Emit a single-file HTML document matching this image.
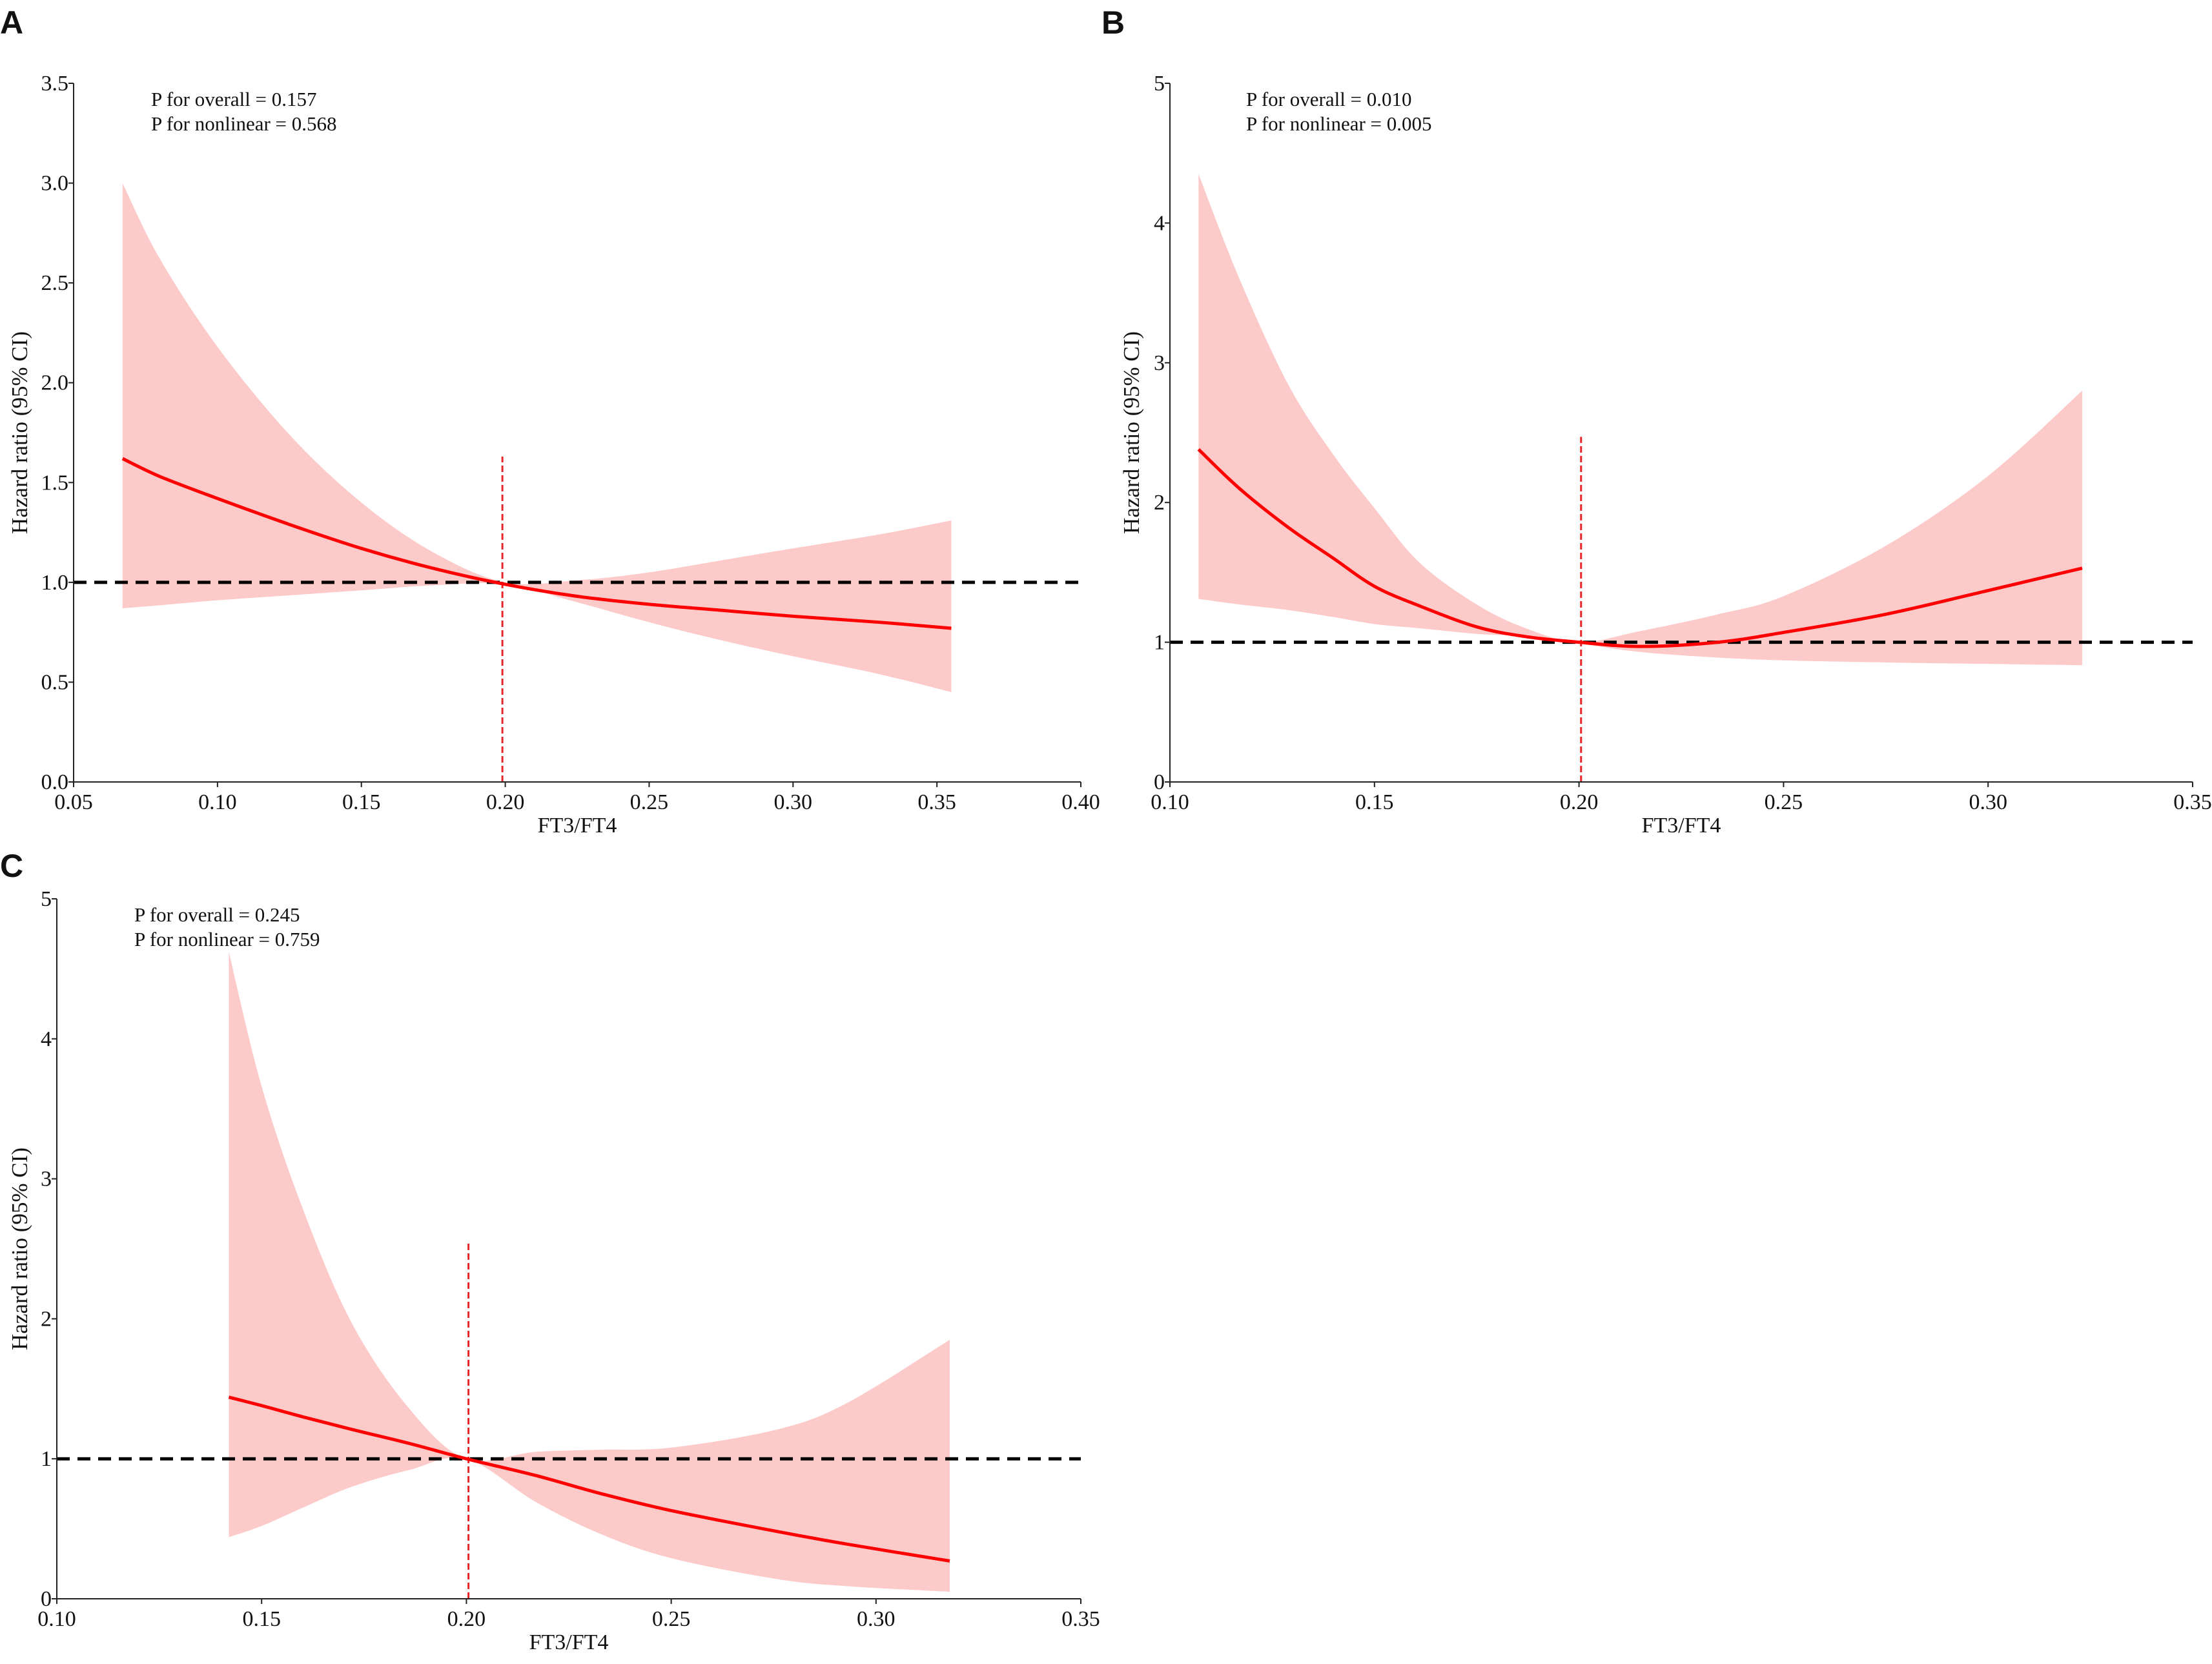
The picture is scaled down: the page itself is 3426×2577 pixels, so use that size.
<!DOCTYPE html>
<html><head><meta charset="utf-8"><style>
html,body{margin:0;padding:0;background:#fff}
svg{display:block}
text{font-family:"Liberation Serif",serif;fill:#111}
.lbl{font-family:"Liberation Sans",sans-serif;font-weight:bold}
</style></head><body>
<svg id="fig" width="3426" height="2577" viewBox="0 0 3426 2577" xmlns="http://www.w3.org/2000/svg"></svg>
<script>
// Panel A data
const aX=[0.067,0.08,0.10,0.125,0.15,0.175,0.20,0.225,0.25,0.275,0.30,0.33,0.355];
const aHR=[1.62,1.53,1.42,1.29,1.17,1.07,0.99,0.93,0.89,0.86,0.83,0.80,0.77];
const aUp=[3.0,2.62,2.18,1.74,1.4,1.15,1.0,1.01,1.05,1.11,1.17,1.24,1.31];
const aLo=[0.87,0.885,0.91,0.935,0.96,0.985,0.99,0.9,0.8,0.71,0.63,0.54,0.45];
const aTicksX=["0.05","0.10","0.15","0.20","0.25","0.30","0.35","0.40"];
const aTicksY=["0.0","0.5","1.0","1.5","2.0","2.5","3.0","3.5"];
// Panel B data
const bX=[0.107,0.117,0.129,0.140,0.150,0.161,0.175,0.187,0.20,0.215,0.234,0.25,0.275,0.30,0.323];
const bHR=[2.38,2.1,1.82,1.6,1.40,1.26,1.11,1.04,1.0,0.97,1.0,1.07,1.2,1.37,1.53];
const bUp=[4.35,3.6,2.84,2.34,1.96,1.57,1.27,1.1,1.0,1.08,1.2,1.33,1.69,2.19,2.8];
const bLo=[1.31,1.27,1.23,1.18,1.13,1.1,1.06,1.04,0.99,0.93,0.89,0.87,0.855,0.845,0.835];
const bTicksX=["0.10","0.15","0.20","0.25","0.30","0.35"];
const bTicksY=["0","1","2","3","4","5"];
// Panel C data
const cX=[0.142,0.15,0.160,0.172,0.186,0.20,0.217,0.233,0.25,0.276,0.293,0.318];
const cHR=[1.44,1.38,1.3,1.21,1.11,1.0,0.88,0.75,0.63,0.48,0.39,0.27];
const cUp=[4.62,3.66,2.79,1.97,1.36,1.0,1.05,1.065,1.08,1.21,1.4,1.85];
const cLo=[0.44,0.52,0.65,0.8,0.92,1.0,0.69,0.46,0.29,0.14,0.09,0.05];
const cTicksX=["0.10","0.15","0.20","0.25","0.30","0.35"];
const cTicksY=["0","1","2","3","4","5"];

const NS="http://www.w3.org/2000/svg";
const svg=document.getElementById('fig');
function mk(tag,attrs,parent){const e=document.createElementNS(NS,tag);for(const k in attrs)e.setAttribute(k,attrs[k]);(parent||svg).appendChild(e);return e;}
function smooth(pts){let d="M"+pts[0][0]+","+pts[0][1];for(let i=0;i<pts.length-1;i++){const p0=pts[Math.max(0,i-1)],p1=pts[i],p2=pts[i+1],p3=pts[Math.min(pts.length-1,i+2)];const c1=[p1[0]+(p2[0]-p0[0])/6,p1[1]+(p2[1]-p0[1])/6],c2=[p2[0]-(p3[0]-p1[0])/6,p2[1]-(p3[1]-p1[1])/6];d+=" C"+c1[0]+","+c1[1]+" "+c2[0]+","+c2[1]+" "+p2[0]+","+p2[1];}return d;}

function panel(o){
  const g=mk('g',{});
  
  
  const sx=v=>o.L+(v-o.x0)/(o.x1-o.x0)*(o.R-o.L);
  const sy=v=>o.B-(v-o.y0)/(o.y1-o.y0)*(o.B-o.T);
  const up=o.xs.map((x,i)=>[sx(x),sy(o.up[i])]);
  const lo=o.xs.map((x,i)=>[sx(x),sy(o.lo[i])]).reverse();
  let d=smooth(up)+" L"+lo[0][0]+","+lo[0][1]+smooth(lo).replace(/^M[^C]*/,' ')+" Z";
  const band=mk('path',{d:d,fill:'#fdcaca',stroke:'none'},g);
  
  
  const ref=mk('line',{x1:o.L,x2:o.R,y1:sy(1),y2:sy(1),stroke:'#000','stroke-width':5,'stroke-dasharray':'20,12'},g);
  
  
  const vl=mk('line',{x1:sx(o.vx),x2:sx(o.vx),y1:o.B,y2:sy(o.vtop),stroke:'#e8262a','stroke-width':3,'stroke-dasharray':'10,5'},g);
  
  
  const cur=mk('path',{d:smooth(o.xs.map((x,i)=>[sx(x),sy(o.hr[i])])),fill:'none',stroke:'#f00','stroke-width':5},g);
  
  
  const ya=mk('line',{x1:o.L,x2:o.L,y1:o.T,y2:o.B,stroke:'#222','stroke-width':2},g);
  
  
  const xa=mk('line',{x1:o.L,x2:o.R,y1:o.B,y2:o.B,stroke:'#222','stroke-width':2},g);
  
  
  o.tx.forEach(t=>{const v=parseFloat(t);const x=sx(v);
    mk('line',{x1:x,x2:x,y1:o.B,y2:o.B+8,stroke:'#222','stroke-width':2},g);
    const tt=mk('text',{x:x,y:o.B+42,'text-anchor':'middle','font-size':34},g);tt.textContent=t;
    
    });
  o.ty.forEach(t=>{const v=parseFloat(t);const y=sy(v);
    mk('line',{x1:o.L-8,x2:o.L,y1:y,y2:y,stroke:'#222','stroke-width':2},g);
    const tt=mk('text',{x:o.L-8,y:y+11,'text-anchor':'end','font-size':34},g);tt.textContent=t;
    
    });
  const xt=mk('text',{x:(o.L+o.R)/2,y:o.B+78,'text-anchor':'middle','font-size':34},g);xt.textContent='FT3/FT4';
  
  
  const cy=(o.T+o.B)/2;
  const yt=mk('text',{x:o.ytx,y:cy,'text-anchor':'middle','font-size':35,transform:'rotate(-90 '+o.ytx+' '+cy+')'},g);yt.textContent='Hazard ratio (95% CI)';
  
  
  const a1=mk('text',{x:o.ax,y:o.ay,'font-size':31},g);a1.textContent=o.p1;
  
  
  const a2=mk('text',{x:o.ax,y:o.ay+38,'font-size':31},g);a2.textContent=o.p2;
  
  
  const pl=mk('text',{x:o.lx,y:o.ly,'font-size':50,'class':'lbl'},g);pl.textContent=o.id;
  
  
}
panel({id:'A',L:114,R:1674,T:129,B:1211,x0:0.05,x1:0.40,y0:0,y1:3.5,xs:aX,hr:aHR,up:aUp,lo:aLo,tx:aTicksX,ty:aTicksY,vx:0.199,vtop:1.63,ytx:42,ax:234,ay:164,p1:'P for overall = 0.157',p2:'P for nonlinear = 0.568',lx:0,ly:52});
panel({id:'B',L:1812,R:3396,T:129,B:1211,x0:0.10,x1:0.35,y0:0,y1:5,xs:bX,hr:bHR,up:bUp,lo:bLo,tx:bTicksX,ty:bTicksY,vx:0.2005,vtop:2.47,ytx:1764,ax:1930,ay:164,p1:'P for overall = 0.010',p2:'P for nonlinear = 0.005',lx:1706,ly:52});
panel({id:'C',L:88,R:1674,T:1392,B:2476,x0:0.10,x1:0.35,y0:0,y1:5,xs:cX,hr:cHR,up:cUp,lo:cLo,tx:cTicksX,ty:cTicksY,vx:0.2005,vtop:2.55,ytx:42,ax:208,ay:1427,p1:'P for overall = 0.245',p2:'P for nonlinear = 0.759',lx:0,ly:1358});
</script>
</body></html>
